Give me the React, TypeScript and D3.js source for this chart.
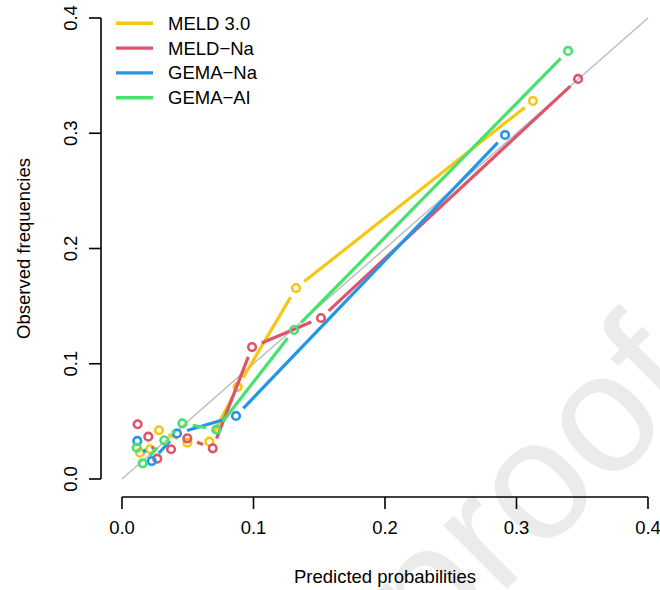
import { useEffect, useRef } from "react"
import * as d3 from "d3"

// calibration groups (predicted vs observed)
const modelNames = ["MELD 3.0", "MELD\u2212Na", "GEMA\u2212Na", "GEMA\u2212AI"]
const modelColors = ["#F5C710", "#DF536B", "#2297E6", "#45E26E"]

const predMELD3 = [0.0137, 0.0213, 0.0281, 0.0497, 0.0664, 0.088, 0.1323, 0.3125]
const obsMELD3 = [0.0228, 0.0258, 0.0423, 0.0315, 0.0324, 0.080, 0.1657, 0.328]

const predMELDNa = [0.0119, 0.020, 0.0268, 0.0373, 0.0497, 0.069, 0.0989, 0.1513, 0.3468]
const obsMELDNa = [0.0475, 0.0367, 0.0176, 0.0258, 0.0353, 0.0266, 0.1145, 0.1397, 0.3471]

const predGEMANa = [0.0116, 0.0226, 0.0418, 0.0867, 0.2913]
const obsGEMANa = [0.033, 0.0156, 0.0395, 0.0547, 0.2985]

const predGEMAAI = [0.0112, 0.0157, 0.0322, 0.0459, 0.0717, 0.1308, 0.3392]
const obsGEMAAI = [0.0272, 0.0136, 0.0336, 0.0483, 0.0428, 0.1293, 0.3714]

const ticks = [0, 0.1, 0.2, 0.3, 0.4]

export default function App() {
    const ref = useRef(null)

    useEffect(() => {
        d3.select(ref.current).selectAll('*').remove()
        buildGraph()
    }, [])

    function buildGraph({
        width = 660,
        height = 590,
    } = {}) {
        const font = "'Liberation Sans', Arial, Helvetica, sans-serif"
        const fontSize = 18.5

        const x = d3.scaleLinear().domain([0, 0.4]).range([122, 648])
        const y = d3.scaleLinear().domain([0, 0.4]).range([479, 18])
        const xAxisY = 497
        const yAxisX = 101

        const series = [
            { pred: predMELD3, obs: obsMELD3 },
            { pred: predMELDNa, obs: obsMELDNa },
            { pred: predGEMANa, obs: obsGEMANa },
            { pred: predGEMAAI, obs: obsGEMAAI },
        ].map((s, i) => ({
            name: modelNames[i],
            color: modelColors[i],
            points: s.pred.map((p, j) => [p, s.obs[j]]),
        }))

        const svg = d3.select(ref.current).append('svg')
            .attr('width', width)
            .attr('height', height)
            .attr('viewBox', [0, 0, width, height])
            .style('position', 'absolute')
            .style('left', 0)
            .style('top', 0)
            .style('background', '#fff')
            .attr('font-family', font)

        // watermark (mostly off the canvas, only "proof" shows)
        svg.append('text')
            .attr('transform', 'translate(706,390) rotate(-45)')
            .attr('text-anchor', 'end')
            .attr('font-size', 170)
            .attr('fill', '#ebebeb')
            .text('Journal Pre-proof')

        // reference diagonal
        svg.append('line')
            .attr('x1', x(0)).attr('y1', y(0))
            .attr('x2', x(0.4)).attr('y2', y(0.4))
            .attr('stroke', '#BEBEBE')
            .attr('stroke-width', 1.5)

        // type = "b": segments with gaps around points
        const gap = 10.5
        series.forEach(s => {
            const g = svg.append('g')
            const px = s.points.map(d => [x(d[0]), y(d[1])])
            for (let i = 0; i < px.length - 1; i++) {
                const [x1, y1] = px[i]
                const [x2, y2] = px[i + 1]
                const len = Math.hypot(x2 - x1, y2 - y1)
                if (len <= 2 * gap) continue
                const ux = (x2 - x1) / len, uy = (y2 - y1) / len
                g.append('line')
                    .attr('x1', x1 + ux * gap).attr('y1', y1 + uy * gap)
                    .attr('x2', x2 - ux * gap).attr('y2', y2 - uy * gap)
                    .attr('stroke', s.color)
                    .attr('stroke-width', 3.2)
            }
            g.selectAll('circle')
                .data(s.points)
                .join('circle')
                    .attr('cx', d => x(d[0]))
                    .attr('cy', d => y(d[1]))
                    .attr('r', 3.8)
                    .attr('fill', 'none')
                    .attr('stroke', s.color)
                    .attr('stroke-width', 2.6)
        })

        // x axis
        const xa = svg.append('g').attr('stroke', '#000').attr('stroke-width', 1.6)
        xa.append('line')
            .attr('x1', x(0)).attr('x2', x(0.4))
            .attr('y1', xAxisY).attr('y2', xAxisY)
        xa.selectAll('line.tick')
            .data(ticks)
            .join('line')
                .attr('class', 'tick')
                .attr('x1', d => x(d)).attr('x2', d => x(d))
                .attr('y1', xAxisY).attr('y2', xAxisY + 12)
        svg.append('g')
            .selectAll('text')
            .data(ticks)
            .join('text')
                .attr('x', d => x(d))
                .attr('y', 534)
                .attr('text-anchor', 'middle')
                .attr('font-size', fontSize)
                .text(d => d.toFixed(1))

        // y axis
        const ya = svg.append('g').attr('stroke', '#000').attr('stroke-width', 1.6)
        ya.append('line')
            .attr('x1', yAxisX).attr('x2', yAxisX)
            .attr('y1', y(0)).attr('y2', y(0.4))
        ya.selectAll('line.tick')
            .data(ticks)
            .join('line')
                .attr('class', 'tick')
                .attr('x1', yAxisX - 12).attr('x2', yAxisX)
                .attr('y1', d => y(d)).attr('y2', d => y(d))
        svg.append('g')
            .selectAll('text')
            .data(ticks)
            .join('text')
                .attr('transform', d => `translate(77,${y(d)}) rotate(-90)`)
                .attr('text-anchor', 'middle')
                .attr('font-size', fontSize)
                .text(d => d.toFixed(1))

        // axis titles
        svg.append('text')
            .attr('x', 385)
            .attr('y', 583)
            .attr('text-anchor', 'middle')
            .attr('font-size', fontSize)
            .text('Predicted probabilities')
        svg.append('text')
            .attr('transform', `translate(30,${(y(0) + y(0.4)) / 2}) rotate(-90)`)
            .attr('text-anchor', 'middle')
            .attr('font-size', fontSize)
            .text('Observed frequencies')

        // legend
        const legend = svg.append('g')
        series.forEach((s, i) => {
            const ly = 23.3 + i * 24.8
            legend.append('line')
                .attr('x1', 116).attr('x2', 153)
                .attr('y1', ly).attr('y2', ly)
                .attr('stroke', s.color)
                .attr('stroke-width', 3.4)
            legend.append('text')
                .attr('x', 168)
                .attr('y', ly)
                .attr('dy', '0.35em')
                .attr('font-size', fontSize)
                .text(s.name)
        })
    }

    return <div ref={ref}></div>
}
